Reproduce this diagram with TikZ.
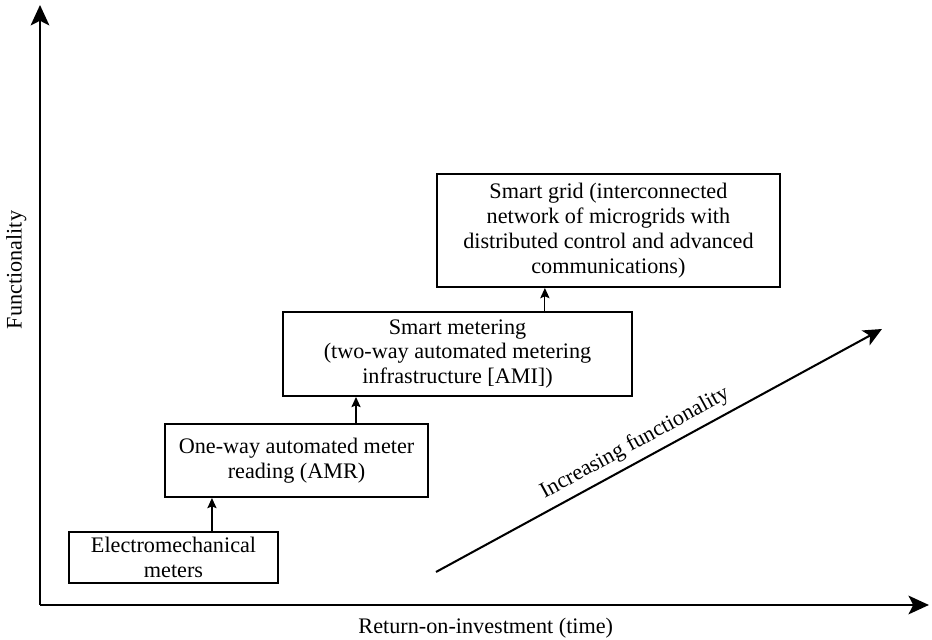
\documentclass[tikz,border=0pt]{standalone}
\usepackage{fontspec}
\setmainfont{Liberation Serif}
\usepackage{xcolor}
\usetikzlibrary{arrows.meta,positioning,calc}

\begin{document}
\begin{tikzpicture}[
  mbox/.style={rectangle, draw=black, line width=1.1pt, inner sep=0pt,
               font=\fontsize{12pt}{13.5pt}\selectfont, align=center},
  arr/.style={-{Stealth[length=5.5pt, width=5pt, inset=1pt]}, line width=0.6pt},
  axis/.style={-{Stealth[length=11pt, width=10pt, inset=2.5pt]}, line width=1.6pt},
  trend/.style={-{Stealth[length=10pt, width=9pt, inset=2.5pt]}, line width=1.1pt},
  lbl/.style={font=\fontsize{12pt}{13.5pt}\selectfont}
]
\useasboundingbox (0,0) rectangle (17.708,12.16);

% Axes
\coordinate (origin) at (0.76,0.665);
\coordinate (ytip)   at (0.76,12.065);
\coordinate (xtip)   at (17.65,0.665);
\draw[axis] (origin) -- (ytip);
\draw[axis] (origin) -- (xtip);
\node[lbl, rotate=90] (ylab) at (0.31,7.03) {Functionality};
\node[lbl]            (xlab) at (9.23,0.228) {Return-on-investment (time)};

% Stages
\node[mbox, minimum width=3.97cm, minimum height=0.97cm]  (emech) at (3.297,1.568)
  {Electromechanical\\meters};
\node[mbox, minimum width=5.0cm,  minimum height=1.387cm] (amr)   at (5.634,3.41)
  {One-way automated meter\\reading (AMR)};
\node[mbox, minimum width=6.63cm, minimum height=1.596cm] (ami)   at (8.693,5.434)
  {Smart metering\\(two-way automated metering\\infrastructure [AMI])};
\node[mbox, minimum width=6.52cm, minimum height=2.147cm] (grid)  at (11.56,7.78)
  {Smart grid (interconnected\\network of microgrids with\\distributed control and advanced\\communications)};

% Arrows
\draw[arr] ([xshift=0.73cm]emech.north) -- ([xshift=0.73cm]emech.north |- amr.south);
\draw[arr] ([xshift=1.13cm]amr.north)   -- ([xshift=1.13cm]amr.north |- ami.south);
\draw[arr] ([xshift=1.66cm]ami.north)   -- ([xshift=1.66cm]ami.north |- grid.south);

% Trend
\coordinate (tstart) at (8.284,1.292);
\coordinate (tend)   at (16.758,5.909);
\draw[trend] (tstart) -- node[lbl, sloped, above, pos=0.465, inner sep=3.5pt] (tlab) {Increasing functionality} (tend);
\end{tikzpicture}
\end{document}
